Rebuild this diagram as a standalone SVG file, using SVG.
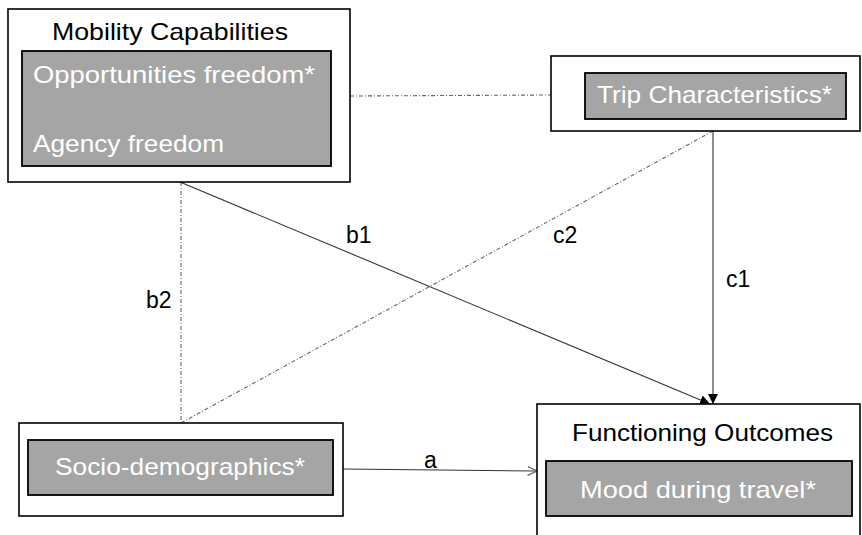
<svg xmlns="http://www.w3.org/2000/svg" width="862" height="535" viewBox="0 0 862 535">
  <style>
    .outer { fill: #ffffff; stroke: #000000; stroke-width: 1.6; }
    .inner { fill: #a5a5a5; stroke: #000000; stroke-width: 1.8; }
    .title { font-family: "Liberation Sans", Arial, sans-serif; font-size: 24px; fill: #000000; }
    .item { font-family: "Liberation Sans", Arial, sans-serif; font-size: 24px; fill: #ffffff; }
    .lbl { font-family: "Liberation Sans", Arial, sans-serif; font-size: 23px; fill: #000000; }
    .solid { fill: none; stroke: #333333; stroke-width: 1.1; }
    .dashdot { fill: none; stroke: #666666; stroke-width: 1.1; stroke-dasharray: 4 2 1 2; }
  </style>
  <defs>
    <marker id="filled" viewBox="0 0 10 10" refX="10" refY="5" markerWidth="10" markerHeight="10" markerUnits="userSpaceOnUse" orient="auto">
      <path d="M0,0 L10,5 L0,10 Z" fill="#000000"/>
    </marker>
    <marker id="open" viewBox="0 0 10 10" refX="9.5" refY="5" markerWidth="10" markerHeight="10" markerUnits="userSpaceOnUse" orient="auto">
      <path d="M0,0.5 L9.5,5 L0,9.5" fill="none" stroke="#666666" stroke-width="1.2"/>
    </marker>
  </defs>

  <rect width="862" height="535" fill="#ffffff"/>

  <g id="connectors">
    <!-- Mobility Capabilities to Trip Characteristics -->
    <line class="dashdot" x1="350" y1="96" x2="551" y2="95"/>
    <!-- b2 and c2 -->
    <line class="dashdot" x1="181" y1="182" x2="181" y2="423"/>
    <line class="dashdot" x1="181" y1="423" x2="713" y2="131"/>
    <!-- b1 -->
    <line class="solid" x1="180" y1="182" x2="710" y2="404" marker-end="url(#filled)"/>
    <!-- c1 -->
    <line class="solid" x1="713" y1="131" x2="713" y2="404" marker-end="url(#filled)"/>
    <!-- a -->
    <line class="solid" x1="343" y1="469" x2="537" y2="471" marker-end="url(#open)"/>
    <text class="lbl" x="346" y="243">b1</text>
    <text class="lbl" x="146" y="308">b2</text>
    <text class="lbl" x="553" y="243">c2</text>
    <text class="lbl" x="726" y="287">c1</text>
    <text class="lbl" x="424" y="468">a</text>
  </g>

  <g id="mobility-capabilities">
    <rect class="outer" x="8" y="9" width="342" height="173"/>
    <text class="title" x="52" y="40" textLength="236" lengthAdjust="spacingAndGlyphs">Mobility Capabilities</text>
    <rect class="inner" x="22" y="51" width="309" height="115"/>
    <text class="item" x="33" y="83" textLength="282" lengthAdjust="spacingAndGlyphs">Opportunities freedom*</text>
    <text class="item" x="33" y="152" textLength="191" lengthAdjust="spacingAndGlyphs">Agency freedom</text>
  </g>

  <g id="trip-characteristics">
    <rect class="outer" x="551" y="56" width="309" height="75"/>
    <rect class="inner" x="585" y="73" width="261" height="46"/>
    <text class="item" x="597" y="103" textLength="235" lengthAdjust="spacingAndGlyphs">Trip Characteristics*</text>
  </g>

  <g id="socio-demographics">
    <rect class="outer" x="19" y="423" width="324" height="93"/>
    <rect class="inner" x="28" y="440" width="305" height="55"/>
    <text class="item" x="55" y="475" textLength="250" lengthAdjust="spacingAndGlyphs">Socio-demographics*</text>
  </g>

  <g id="functioning-outcomes">
    <rect class="outer" x="537" y="404" width="323" height="140"/>
    <text class="title" x="572" y="441" textLength="261" lengthAdjust="spacingAndGlyphs">Functioning Outcomes</text>
    <rect class="inner" x="546" y="461" width="306" height="55"/>
    <text class="item" x="580" y="498" textLength="236" lengthAdjust="spacingAndGlyphs">Mood during travel*</text>
  </g>
</svg>
